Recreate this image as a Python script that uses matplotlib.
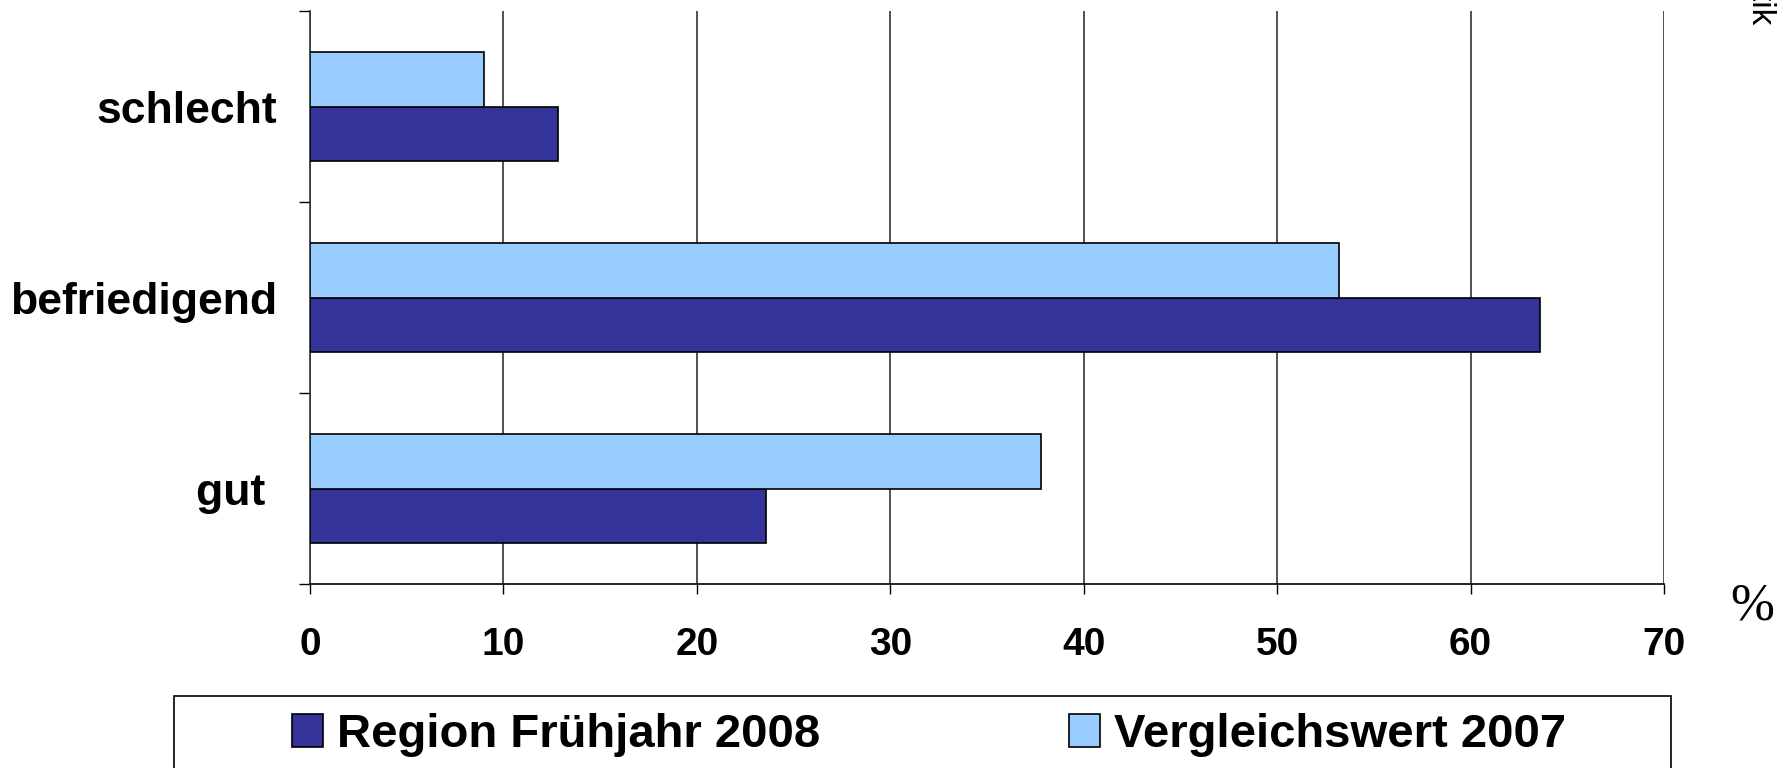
import matplotlib
matplotlib.use("Agg")
import matplotlib.pyplot as plt
from matplotlib.patches import Rectangle
import numpy as np

categories = ["gut ", "befriedigend", "schlecht"]
region_2008 = [23.6, 63.6, 12.8]
vergleich_2007 = [37.8, 53.2, 9.0]
series_labels = ["Region Frühjahr 2008", "Vergleichswert 2007"]
xticks = [0, 10, 20, 30, 40, 50, 60, 70]

DARK = "#333399"
LIGHT = "#99CCFF"
FONT = "Liberation Sans"

fig = plt.figure(figsize=(17.86, 7.68), dpi=100)
ax = fig.add_axes([310/1786, 1-584/768, (1664-310)/1786, (584-11.4)/768])

y = np.arange(len(categories))
h = 0.286
ax.barh(y - h/2, region_2008, height=h, color=DARK, edgecolor="black", linewidth=1.2,
        label=series_labels[0], zorder=3)
ax.barh(y + h/2, vergleich_2007, height=h, color=LIGHT, edgecolor="black", linewidth=1.2,
        label=series_labels[1], zorder=3)

ax.set_xlim(0, 70)
ax.set_ylim(-0.5, len(categories) - 0.5)
ax.set_xticks(xticks)
ax.set_xticklabels([str(t) for t in xticks], fontfamily=FONT, fontweight="bold", fontsize=28)
ax.set_yticks(y)
ax.set_yticklabels(categories, fontfamily=FONT, fontweight="bold", fontsize=32)
ax.set_yticks(np.arange(-0.5, len(categories)), minor=True)
ax.tick_params(axis="y", which="major", length=0, pad=23.5)
ax.tick_params(axis="y", which="minor", length=8, width=1, direction="out", color="black")
ax.tick_params(axis="x", which="major", length=7, width=1, direction="out", pad=24, color="black")

ax.grid(axis="x", color="#333333", linewidth=1.2, zorder=0)
ax.set_axisbelow(True)
for s in ["top", "right"]:
    ax.spines[s].set_visible(False)
ax.spines["left"].set_color("#333333")
ax.spines["left"].set_linewidth(1.2)
ax.spines["bottom"].set_color("black")
ax.spines["bottom"].set_linewidth(1.2)

# percent unit label
fig.text(1752/1786, 1-607/768, "%", fontfamily="Liberation Serif", fontsize=38,
         ha="center", va="center")

# clipped rotated source text at top right
fig.text(1760/1786, 1-24/768, "Quelle: Statistik", fontfamily=FONT, fontsize=24,
         rotation=270, ha="center", va="bottom")

# legend frame
fig.add_artist(Rectangle((174/1786, -0.1), (1671-174)/1786, 0.1 + (1-696/768),
                         transform=fig.transFigure, facecolor="white",
                         edgecolor="black", linewidth=1.2, clip_on=False))

handles, labels = ax.get_legend_handles_labels()
leg = fig.legend(handles, labels, loc="center",
                 bbox_to_anchor=(292/1786, 1-735/768 - 0.02, (1566-292)/1786, 0.04),
                 mode="expand", ncol=2, frameon=False, borderpad=0, borderaxespad=0,
                 handlelength=0.65, handleheight=0.7, handletextpad=0.3,
                 prop={"family": FONT, "weight": "bold", "size": 34})

fig.savefig("out.png", dpi=100)
